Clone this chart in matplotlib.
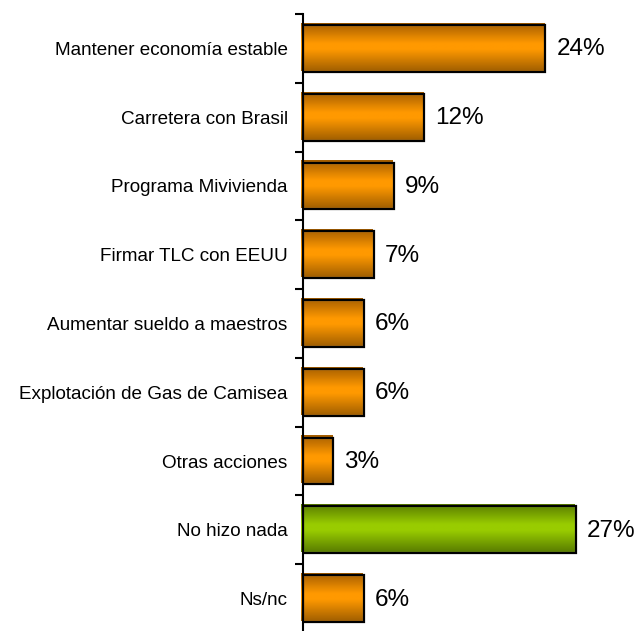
import matplotlib as mpl
import matplotlib.pyplot as plt
import numpy as np
from matplotlib.patches import Rectangle
from matplotlib.colors import LinearSegmentedColormap

mpl.rcParams.update({
    "font.family": ["Liberation Sans", "DejaVu Sans"],
})

# ── Data ──────────────────────────────────────────────────
categories = [
    "Mantener economía estable",
    "Carretera con Brasil",
    "Programa Mivivienda",
    "Firmar TLC con EEUU",
    "Aumentar sueldo a maestros",
    "Explotación de Gas de Camisea",
    "Otras acciones",
    "No hizo nada",
    "Ns/nc",
]
values = [24, 12, 9, 7, 6, 6, 3, 27, 6]
highlight = [False, False, False, False, False, False, False, True, False]

# ── Gradients (cylinder look) ─────────────────────────────
ORANGE = LinearSegmentedColormap.from_list(
    "orange", [(0, "#A65E00"), (0.42, "#FF9900"), (0.55, "#FF9900"), (1, "#A36000")])
GREEN = LinearSegmentedColormap.from_list(
    "green", [(0, "#5A7E00"), (0.42, "#99CC00"), (0.55, "#99CC00"), (1, "#5A7E00")])

W, H = 635, 631
fig = plt.figure(figsize=(W / 100, H / 100), dpi=100, facecolor="white")
ax_left, ax_right = 303, 636
ax_top, ax_bot = 14, 633
ax = fig.add_axes([ax_left / W, (H - ax_bot) / H,
                   (ax_right - ax_left) / W, (ax_bot - ax_top) / H])

xmax = (ax_right - ax_left) / 10.1
n = len(categories)
ax.set_xlim(0, xmax)
ax.set_ylim(n - 0.5, -0.5)

px_x = xmax / (ax_right - ax_left)
px_y = n / (ax_bot - ax_top)

bh = 0.68
grad = np.linspace(0, 1, 64).reshape(-1, 1)
for i, (v, hl) in enumerate(zip(values, highlight)):
    cmap = GREEN if hl else ORANGE
    # fill, shifted up/left a little
    x0 = -2 * px_x
    y0 = i - bh / 2 - 2 * px_y
    ax.imshow(grad, cmap=cmap, aspect="auto", interpolation="bilinear",
              extent=(x0, v - 1 * px_x, y0 + bh + 1 * px_y, y0), clip_on=False, zorder=2)
    # thin white highlight inside the outline
    ax.add_patch(Rectangle((0, i - bh / 2), v - 0.6 * px_x, bh - 1 * px_y,
                           fill=False, edgecolor="white", lw=0.8, zorder=3))
    # black outline (shadow frame)
    ax.add_patch(Rectangle((0, i - bh / 2), v, bh,
                           fill=False, edgecolor="black", lw=1.6, zorder=4))
    ax.text(v + 11 * px_x, i + 1 * px_y, f"{v}%", va="center", ha="left",
            fontsize=17.5, color="black")

# ── Axis styling ──────────────────────────────────────────
for s in ["top", "right", "bottom"]:
    ax.spines[s].set_visible(False)
ax.spines["left"].set_linewidth(1.5)
ax.spines["left"].set_zorder(5)
ax.set_xticks([])
ax.set_yticks(np.arange(n + 1) - 0.5)
ax.set_yticklabels([])
ax.tick_params(axis="y", which="major", length=5.5, width=1.5, direction="out")
ax.set_yticks(np.arange(n), minor=True)
ax.set_yticklabels(categories, minor=True, fontsize=13.6)
ax.tick_params(axis="y", which="minor", length=0, pad=11)

fig.savefig("out.png", dpi=100, facecolor="white")
